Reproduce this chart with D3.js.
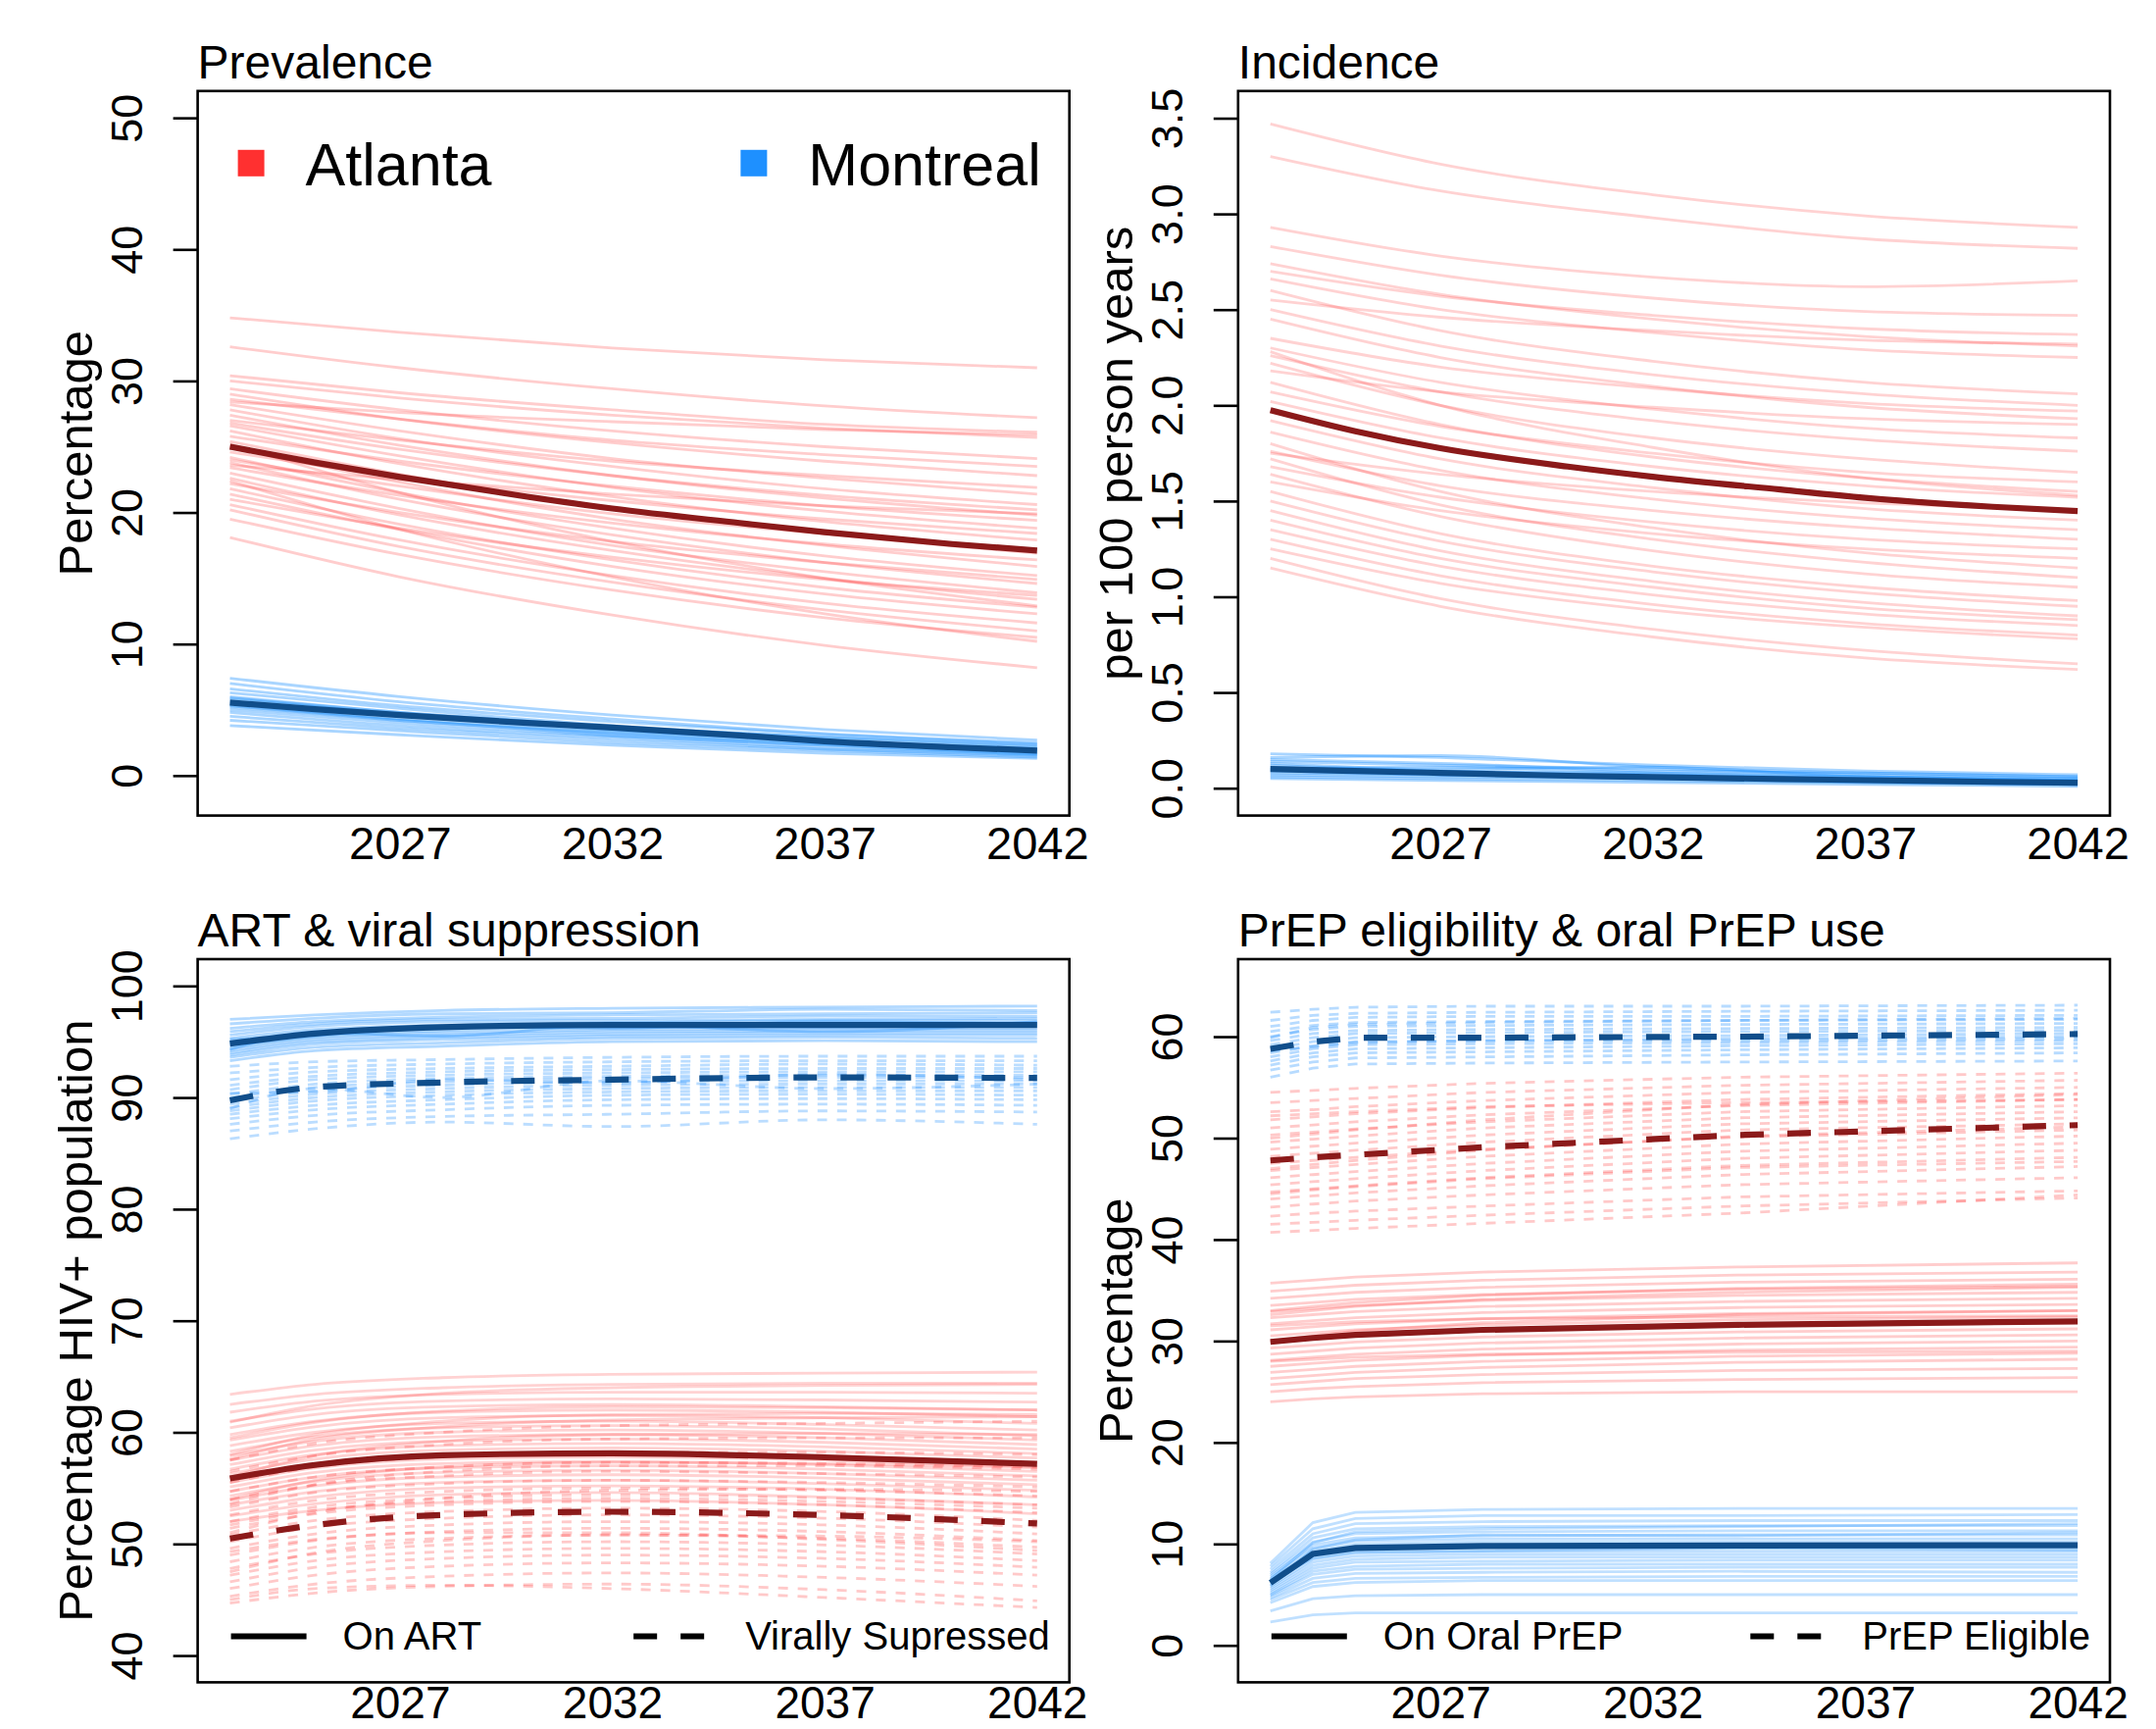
<!DOCTYPE html>
<html>
<head>
<meta charset="utf-8">
<script src="https://cdn.jsdelivr.net/npm/d3@7"></script>
<style>
  body { margin: 0; background: #fff; }
  text { font-family: 'Liberation Sans', Arial, Helvetica, sans-serif; fill: #000; }
</style>
</head>
<body>
<svg id="chart"></svg>
<script>
// COLOURS
const ATL = '#FF3030', MTL = '#1E90FF', ATL_DARK = '#8B1A1A', MTL_DARK = '#104E8B'

// YEARS AT WHICH EACH RUN WAS READ
const RUN_YEARS = [2023, 2027, 2032, 2037, 2042]
const MEAN_YEARS = [2023, 2025, 2027, 2030, 2032, 2035, 2037, 2040, 2042]
const ART_YEARS = [2023, 2025, 2028, 2032, 2037, 2042]
const PREP_YEARS = [2023, 2024, 2025, 2028, 2034, 2042]
const X_TICKS = [2027, 2032, 2037, 2042]

// PREVALENCE (%)
const prevAtlRuns = [
  [34.8, 33.7, 32.5, 31.6, 31.0], [32.6, 31.0, 29.4, 28.1, 27.2], [30.4, 29.1, 27.8, 26.7, 26.1],
  [30.0, 28.7, 27.4, 26.4, 25.7], [29.4, 27.8, 26.2, 25.0, 24.1], [29.0, 27.1, 25.3, 23.9, 22.8],
  [28.6, 27.1, 25.5, 24.4, 23.5], [28.2, 26.2, 24.1, 22.6, 21.4], [27.8, 25.6, 23.5, 21.8, 20.6],
  [27.4, 25.1, 22.8, 21.1, 19.8], [27.0, 25.5, 23.9, 22.8, 21.9], [26.6, 24.3, 21.9, 20.1, 18.8],
  [26.2, 23.7, 21.2, 19.3, 17.9], [25.8, 23.9, 22.0, 20.5, 19.4], [25.4, 22.9, 20.3, 18.4, 16.9],
  [25.0, 22.3, 19.5, 17.5, 15.9], [24.6, 22.7, 20.9, 19.5, 18.4], [24.2, 21.5, 18.8, 16.7, 15.2],
  [23.8, 21.0, 18.3, 16.2, 14.6], [23.4, 21.3, 19.2, 17.6, 16.4], [23.0, 20.3, 17.5, 15.5, 13.9],
  [22.6, 19.8, 17.1, 15.0, 13.4], [22.2, 20.0, 17.8, 16.2, 14.9], [21.8, 19.1, 16.4, 14.3, 12.8],
  [21.4, 18.7, 15.9, 13.8, 12.3], [21.0, 18.8, 16.6, 14.9, 13.7], [20.6, 17.9, 15.2, 13.1, 11.6],
  [20.2, 17.4, 14.7, 12.6, 11.0], [19.5, 16.8, 14.1, 12.0, 10.5], [18.1, 15.1, 12.2, 9.9, 8.2],
  [26.8, 24.8, 22.8, 21.3, 20.2], [24.0, 22.0, 19.9, 18.4, 17.2], [22.4, 18.7, 15.1, 12.3, 10.2],
  [28.4, 27.6, 26.9, 26.3, 25.9], [25.2, 21.5, 17.8, 15.0, 12.9], [23.6, 22.5, 21.4, 20.5, 19.9]
]
const prevMtlRuns = [
  [7.4, 6.0, 4.6, 3.5, 2.7], [7.0, 5.6, 4.3, 3.2, 2.5], [6.6, 5.3, 4.1, 3.1, 2.4], [6.3, 5.1, 3.8, 2.9, 2.2],
  [6.0, 4.8, 3.7, 2.7, 2.1], [5.8, 4.7, 3.5, 2.6, 2.0], [5.6, 4.5, 3.4, 2.6, 2.0], [5.4, 4.3, 3.3, 2.5, 1.9],
  [5.2, 4.2, 3.2, 2.4, 1.8], [5.0, 4.0, 3.0, 2.3, 1.7], [4.8, 3.8, 2.9, 2.1, 1.6], [4.5, 3.6, 2.7, 2.0, 1.5],
  [4.2, 3.4, 2.5, 1.9, 1.4], [3.8, 3.1, 2.3, 1.7, 1.3], [5.9, 4.8, 3.7, 2.9, 2.3], [5.3, 4.2, 3.1, 2.3, 1.6]
]
const prevAtlMean = [25.0, 23.8, 22.7, 21.2, 20.3, 19.2, 18.5, 17.6, 17.1]
const prevMtlMean = [5.55, 5.05, 4.6, 4.0, 3.65, 3.05, 2.6, 2.15, 1.9]

// INCIDENCE (per 100 person years)
const incAtlRuns = [
  [3.47, 3.26, 3.10, 2.99, 2.93], [3.30, 3.12, 2.98, 2.87, 2.82], [2.93, 2.78, 2.67, 2.62, 2.65],
  [2.83, 2.68, 2.56, 2.49, 2.47], [2.74, 2.58, 2.45, 2.36, 2.31], [2.70, 2.57, 2.47, 2.40, 2.37],
  [2.66, 2.50, 2.38, 2.29, 2.25], [2.60, 2.39, 2.23, 2.12, 2.06], [2.55, 2.46, 2.39, 2.34, 2.32],
  [2.50, 2.31, 2.16, 2.06, 2.00], [2.45, 2.25, 2.10, 1.99, 1.93], [2.35, 2.20, 2.09, 2.01, 1.97],
  [2.30, 2.12, 1.98, 1.88, 1.83], [2.26, 2.07, 1.92, 1.82, 1.76], [2.22, 2.00, 1.83, 1.72, 1.65],
  [2.18, 2.07, 1.99, 1.93, 1.90], [2.12, 1.90, 1.73, 1.62, 1.55], [2.07, 1.89, 1.75, 1.65, 1.60],
  [2.02, 1.83, 1.68, 1.58, 1.52], [1.92, 1.72, 1.57, 1.46, 1.40], [1.86, 1.66, 1.51, 1.41, 1.35],
  [1.80, 1.55, 1.36, 1.23, 1.15], [1.76, 1.58, 1.45, 1.36, 1.30], [1.72, 1.48, 1.30, 1.18, 1.10],
  [1.68, 1.52, 1.39, 1.30, 1.25], [1.64, 1.42, 1.24, 1.12, 1.05], [1.60, 1.45, 1.33, 1.25, 1.20],
  [1.55, 1.33, 1.16, 1.05, 0.98], [1.50, 1.29, 1.13, 1.02, 0.95], [1.45, 1.24, 1.08, 0.97, 0.90],
  [1.40, 1.20, 1.05, 0.94, 0.88], [1.35, 1.16, 1.01, 0.91, 0.85], [1.30, 1.11, 0.96, 0.86, 0.80],
  [1.25, 1.07, 0.93, 0.84, 0.78], [1.20, 0.99, 0.83, 0.72, 0.65], [1.15, 0.95, 0.79, 0.68, 0.62],
  [1.75, 1.64, 1.55, 1.49, 1.45], [2.28, 2.00, 1.78, 1.62, 1.53]
]
const incMtlRuns = [
  [0.18, 0.16, 0.12, 0.09, 0.07], [0.16, 0.17, 0.11, 0.08, 0.06], [0.14, 0.12, 0.10, 0.07, 0.05],
  [0.13, 0.10, 0.11, 0.06, 0.05], [0.12, 0.09, 0.08, 0.06, 0.04], [0.11, 0.09, 0.07, 0.05, 0.04],
  [0.10, 0.08, 0.06, 0.05, 0.03], [0.09, 0.07, 0.06, 0.04, 0.03], [0.08, 0.07, 0.05, 0.04, 0.02],
  [0.07, 0.06, 0.05, 0.03, 0.02], [0.06, 0.05, 0.04, 0.03, 0.02], [0.05, 0.04, 0.03, 0.02, 0.01],
  [0.10, 0.11, 0.08, 0.06, 0.04], [0.15, 0.13, 0.09, 0.08, 0.06]
]
const incAtlMean = [1.975, 1.865, 1.776, 1.68, 1.627, 1.56, 1.517, 1.47, 1.448]
const incMtlMean = [0.10, 0.09, 0.08, 0.065, 0.058, 0.048, 0.042, 0.033, 0.028]

// ART & VIRAL SUPPRESSION (% of HIV+ population)
const artMtlRuns = [
  [97.0, 97.4, 97.8, 98.0, 98.1, 98.2], [96.6, 97.1, 97.5, 97.6, 97.9, 97.8], [96.2, 96.8, 97.2, 97.4, 97.5, 97.6],
  [95.9, 96.6, 97.0, 97.1, 97.3, 97.3], [95.6, 96.4, 96.8, 96.9, 97.0, 97.1], [95.3, 96.1, 96.5, 96.7, 96.9, 96.9],
  [95.0, 95.9, 96.3, 96.6, 96.6, 96.7], [94.8, 95.7, 96.2, 96.4, 96.5, 96.5], [94.6, 95.5, 96.0, 96.3, 96.3, 96.4],
  [94.4, 95.4, 95.8, 96.1, 96.2, 96.2], [94.2, 95.2, 95.6, 95.9, 96.0, 96.0], [94.0, 95.0, 95.4, 95.7, 95.8, 95.8],
  [93.8, 94.8, 95.2, 95.5, 95.6, 95.6], [93.6, 94.5, 94.9, 95.3, 95.4, 95.3], [93.3, 94.2, 94.6, 95.0, 95.1, 95.0],
  [95.2, 95.6, 96.4, 96.2, 96.8, 96.6], [94.3, 95.8, 95.5, 96.5, 95.9, 96.8]
]
const vsMtlRuns = [
  [92.8, 93.2, 93.4, 93.6, 93.7, 93.7], [92.2, 92.7, 93.0, 93.2, 93.3, 93.3], [91.6, 92.3, 92.6, 92.8, 93.0, 92.9],
  [91.1, 91.9, 92.3, 92.5, 92.6, 92.6], [90.7, 91.6, 92.0, 92.2, 92.3, 92.3], [90.3, 91.2, 91.7, 91.9, 92.0, 92.0],
  [90.0, 90.9, 91.4, 91.7, 91.8, 91.8], [89.7, 90.6, 91.1, 91.4, 91.5, 91.5], [89.4, 90.3, 90.8, 91.1, 91.2, 91.2],
  [89.1, 90.0, 90.5, 90.8, 90.9, 90.9], [88.8, 89.7, 90.2, 90.5, 90.6, 90.6], [88.5, 89.3, 89.8, 90.2, 90.3, 90.2],
  [88.1, 88.9, 89.4, 89.8, 89.9, 89.8], [87.6, 88.4, 88.9, 89.3, 89.4, 89.3], [87.0, 87.8, 88.3, 88.5, 88.8, 88.7],
  [86.3, 87.2, 87.8, 87.4, 88.0, 87.6], [90.4, 90.5, 91.6, 91.3, 92.1, 91.6], [89.0, 90.8, 90.0, 91.5, 90.8, 91.2]
]
const artAtlRuns = [
  [63.4, 64.3, 64.9, 65.2, 65.3, 65.4], [62.5, 63.4, 64.0, 64.3, 64.4, 64.4], [61.8, 62.8, 63.4, 63.6, 63.6, 63.5],
  [61.0, 62.1, 62.8, 63.0, 62.9, 62.7], [60.4, 61.6, 62.3, 62.5, 62.3, 62.0], [59.8, 61.0, 61.8, 62.0, 61.8, 61.4],
  [59.3, 60.5, 61.3, 61.5, 61.3, 60.8], [58.8, 60.0, 60.8, 61.0, 60.7, 60.2], [58.3, 59.6, 60.4, 60.6, 60.3, 59.7],
  [57.9, 59.2, 60.0, 60.2, 59.9, 59.3], [57.5, 58.8, 59.6, 59.8, 59.5, 58.9], [57.1, 58.4, 59.2, 59.4, 59.1, 58.5],
  [56.7, 58.0, 58.8, 59.0, 58.7, 58.1], [56.3, 57.6, 58.4, 58.6, 58.3, 57.7], [55.9, 57.2, 58.0, 58.2, 57.9, 57.3],
  [55.5, 56.8, 57.6, 57.8, 57.5, 56.9], [55.1, 56.4, 57.2, 57.4, 57.1, 56.5], [54.7, 56.0, 56.8, 57.0, 56.7, 56.1],
  [54.3, 55.6, 56.4, 56.6, 56.3, 55.7], [53.9, 55.2, 56.0, 56.2, 55.9, 55.3], [53.5, 54.7, 55.5, 55.7, 55.4, 54.8],
  [53.0, 54.2, 55.0, 55.2, 54.9, 54.2], [52.5, 53.6, 54.4, 54.6, 54.2, 53.5], [52.0, 53.0, 53.7, 53.9, 53.5, 52.7],
  [60.9, 62.4, 63.5, 64.0, 64.2, 64.3], [58.0, 59.8, 61.0, 61.6, 61.7, 61.6], [56.0, 57.9, 59.2, 59.8, 59.9, 59.8],
  [54.0, 55.7, 56.9, 57.3, 57.2, 56.8], [57.6, 59.4, 60.5, 61.1, 61.3, 61.4], [59.5, 60.9, 61.9, 62.3, 62.2, 62.0]
]
const vsAtlRuns = [
  [57.5, 59.0, 60.0, 60.6, 60.8, 61.0], [56.5, 57.9, 58.9, 59.4, 59.5, 59.5], [55.5, 56.9, 57.8, 58.2, 58.2, 58.0],
  [54.7, 56.0, 56.9, 57.3, 57.2, 56.9], [54.0, 55.3, 56.1, 56.5, 56.3, 56.0], [53.3, 54.6, 55.4, 55.7, 55.5, 55.1],
  [52.6, 53.9, 54.7, 55.0, 54.8, 54.3], [52.0, 53.3, 54.1, 54.4, 54.1, 53.5], [51.4, 52.7, 53.5, 53.8, 53.5, 52.8],
  [50.8, 52.1, 52.9, 53.2, 52.9, 52.1], [50.2, 51.5, 52.3, 52.6, 52.3, 51.5], [49.6, 50.9, 51.7, 52.0, 51.7, 50.9],
  [49.0, 50.3, 51.1, 51.4, 51.1, 50.3], [48.4, 49.7, 50.5, 50.8, 50.5, 49.7], [47.8, 49.1, 49.9, 50.2, 49.9, 49.1],
  [47.2, 48.5, 49.3, 49.6, 49.3, 48.5], [46.6, 47.9, 48.7, 49.0, 48.7, 47.9], [46.0, 47.2, 48.0, 48.3, 48.0, 47.2],
  [45.3, 46.4, 47.1, 47.4, 47.0, 46.2], [44.7, 45.6, 46.2, 46.4, 45.9, 44.9], [45.0, 46.0, 46.3, 46.0, 45.2, 44.3],
  [51.0, 52.8, 54.1, 54.8, 54.9, 54.7], [49.3, 50.4, 51.0, 51.0, 50.4, 49.4], [53.6, 55.3, 56.5, 57.0, 57.0, 56.7],
  [47.5, 49.2, 50.3, 50.8, 50.7, 50.2], [51.7, 53.0, 53.8, 54.1, 53.8, 53.2]
]
const artMtlMean = [94.83, 95.73, 96.3, 96.5, 96.5, 96.5]
const vsMtlMean = [89.75, 90.93, 91.35, 91.6, 91.8, 91.75]
const artAtlMean = [55.87, 57.08, 57.95, 58.12, 57.76, 57.17]
const vsAtlMean = [50.48, 51.69, 52.6, 52.88, 52.58, 51.83]

// PREP ELIGIBILITY & ORAL PREP USE (%)
const useMtlRuns = [
  [8.1, 12.1, 13.1, 13.4, 13.5, 13.5], [7.8, 11.5, 12.5, 12.8, 12.8, 12.9], [7.5, 11.0, 12.0, 12.2, 12.3, 12.3],
  [7.2, 10.6, 11.5, 11.7, 11.8, 11.8], [7.0, 10.2, 11.0, 11.2, 11.3, 11.3], [6.8, 9.9, 10.6, 10.8, 10.9, 10.9],
  [6.6, 9.6, 10.3, 10.5, 10.5, 10.5], [6.4, 9.3, 10.0, 10.2, 10.2, 10.2], [6.2, 9.1, 9.7, 9.9, 9.9, 9.9],
  [6.0, 8.8, 9.4, 9.6, 9.6, 9.6], [5.8, 8.5, 9.1, 9.3, 9.3, 9.3], [5.6, 8.2, 8.8, 9.0, 9.0, 9.0],
  [5.4, 7.9, 8.5, 8.7, 8.7, 8.7], [5.2, 7.6, 8.2, 8.3, 8.4, 8.4], [5.0, 7.3, 7.8, 8.0, 8.0, 8.0],
  [4.9, 7.0, 7.5, 7.6, 7.7, 7.7], [4.7, 6.6, 7.1, 7.2, 7.3, 7.2], [4.5, 6.2, 6.6, 6.7, 6.8, 6.8],
  [4.2, 5.8, 6.2, 6.4, 6.4, 6.4], [3.4, 4.6, 4.9, 5.0, 5.0, 5.0], [2.3, 3.0, 3.2, 3.2, 3.2, 3.2],
  [6.5, 10.1, 11.2, 11.5, 11.7, 12.0], [5.9, 9.5, 10.4, 10.9, 10.8, 11.1], [6.3, 8.6, 9.2, 9.3, 9.6, 9.4]
]
const eligMtlRuns = [
  [62.4, 62.7, 62.9, 63.0, 63.0, 63.1], [61.6, 62.1, 62.3, 62.4, 62.5, 62.6], [61.0, 61.6, 61.9, 62.0, 62.0, 62.1],
  [60.5, 61.1, 61.4, 61.5, 61.6, 61.7], [60.0, 60.7, 61.0, 61.1, 61.2, 61.3], [59.6, 60.3, 60.6, 60.7, 60.8, 60.9],
  [59.2, 59.9, 60.3, 60.4, 60.5, 60.6], [58.8, 59.5, 59.9, 60.0, 60.1, 60.3], [58.4, 59.1, 59.5, 59.6, 59.8, 60.0],
  [58.0, 58.8, 59.2, 59.3, 59.4, 59.6], [57.6, 58.4, 58.8, 58.9, 59.1, 59.3], [57.2, 58.0, 58.4, 58.5, 58.7, 58.9],
  [56.7, 57.5, 57.9, 58.0, 58.2, 58.4], [56.0, 56.9, 57.3, 57.4, 57.5, 57.6], [59.9, 60.9, 61.2, 61.4, 61.6, 61.8],
  [58.6, 59.0, 59.4, 59.6, 59.6, 59.8]
]
const useAtlRuns = [
  [35.7, 36.0, 36.3, 36.8, 37.3, 37.7], [34.9, 35.2, 35.5, 36.0, 36.5, 36.8], [34.2, 34.5, 34.8, 35.3, 35.8, 36.1],
  [33.5, 33.8, 34.1, 34.6, 35.1, 35.4], [32.9, 33.2, 33.5, 34.0, 34.5, 34.8], [32.3, 32.6, 32.9, 33.4, 33.9, 34.2],
  [31.7, 32.0, 32.3, 32.8, 33.3, 33.6], [31.1, 31.4, 31.7, 32.2, 32.7, 33.0], [30.5, 30.8, 31.1, 31.6, 32.1, 32.4],
  [29.9, 30.2, 30.5, 31.0, 31.5, 31.8], [29.3, 29.6, 29.9, 30.4, 30.9, 31.2], [28.7, 29.0, 29.3, 29.8, 30.3, 30.6],
  [28.1, 28.4, 28.7, 29.2, 29.7, 30.0], [27.5, 27.8, 28.1, 28.6, 29.1, 29.4], [26.9, 27.2, 27.5, 28.0, 28.5, 28.8],
  [26.3, 26.6, 26.9, 27.4, 27.9, 28.2], [25.7, 26.0, 26.3, 26.7, 27.1, 27.3], [25.0, 25.3, 25.5, 25.9, 26.2, 26.4],
  [24.0, 24.3, 24.5, 24.8, 25.0, 25.0], [33.0, 33.4, 33.8, 34.5, 35.2, 35.6], [30.0, 30.5, 31.0, 31.8, 32.6, 33.0],
  [31.5, 31.7, 31.9, 32.2, 32.4, 32.5], [28.0, 28.2, 28.4, 28.7, 28.9, 29.0], [32.6, 33.0, 33.4, 34.1, 34.8, 35.3]
]
const eligAtlRuns = [
  [54.5, 54.7, 54.9, 55.4, 56.0, 56.4], [53.5, 53.7, 53.9, 54.5, 55.2, 55.7], [52.6, 52.8, 53.1, 53.7, 54.5, 55.0],
  [51.8, 52.1, 52.4, 53.0, 53.8, 54.4], [51.0, 51.3, 51.6, 52.3, 53.2, 53.8], [50.3, 50.6, 50.9, 51.6, 52.6, 53.2],
  [49.6, 49.9, 50.2, 51.0, 52.0, 52.6], [48.9, 49.2, 49.5, 50.3, 51.4, 52.0], [48.2, 48.5, 48.8, 49.6, 50.8, 51.4],
  [47.5, 47.8, 48.1, 48.9, 50.1, 50.8], [46.8, 47.1, 47.4, 48.2, 49.4, 50.2], [46.1, 46.4, 46.7, 47.5, 48.7, 49.5],
  [45.4, 45.7, 46.0, 46.8, 48.0, 48.8], [44.7, 45.0, 45.3, 46.1, 47.3, 48.1], [44.0, 44.3, 44.6, 45.3, 46.4, 47.2],
  [43.2, 43.5, 43.8, 44.4, 45.4, 46.1], [42.3, 42.6, 42.8, 43.3, 44.2, 44.8], [41.5, 41.7, 41.9, 42.4, 43.3, 44.1],
  [40.7, 40.9, 41.1, 41.6, 42.6, 44.4], [50.0, 50.4, 50.8, 51.8, 53.3, 54.3], [47.0, 47.4, 47.8, 48.8, 50.2, 51.1],
  [44.5, 44.9, 45.2, 46.0, 47.1, 47.7], [52.2, 52.4, 52.6, 53.1, 53.5, 53.8]
]
const useMtlMean = [6.16, 9.02, 9.61, 9.8, 9.85, 9.87]
const eligMtlMean = [58.8, 59.5, 59.9, 59.9, 60.0, 60.25]
const useAtlMean = [29.92, 30.3, 30.6, 31.1, 31.6, 31.94]
const eligAtlMean = [47.8, 48.1, 48.35, 49.1, 50.3, 51.28]

// PAGE SIZE & PANEL BOXES
const totalWidth = 2199, totalHeight = 1763
const cols = [[201.6, 1090.7], [1262.8, 2152]]
const rows = [[92.8, 831.6], [978, 1715.4]]

const svg = d3.select('#chart')
  .attr('width', totalWidth)
  .attr('height', totalHeight)

svg.append('rect').attr('width', totalWidth).attr('height', totalHeight).attr('fill', '#fff')

function drawPanel(p) {
  var [left, right] = cols[p.col], [top, bottom] = rows[p.row]

  var x = d3.scaleLinear().domain([2022.24, 2042.76]).range([left, right])
  var y = d3.scaleLinear().domain(p.yDomain).range([bottom, top])

  var line = d3.line()
    .x(d => x(d[0]))
    .y(d => y(d[1]))
    .curve(p.curve || d3.curveMonotoneX)

  var plot = svg.append('g')

  // FAINT SIMULATION RUNS
  p.runs.forEach(s => {
    s.data.forEach(run => {
      plot.append('path')
        .datum(s.years.map((yr, i) => [yr, run[i]]))
        .attr('d', line)
        .attr('fill', 'none')
        .attr('stroke', s.color)
        .attr('stroke-opacity', s.opacity)
        .attr('stroke-width', 2.8)
        .attr('stroke-dasharray', s.dashed ? '10,10' : null)
    })
  })

  // MEAN LINES
  p.means.forEach(s => {
    plot.append('path')
      .datum(s.years.map((yr, i) => [yr, s.data[i]]))
      .attr('d', line)
      .attr('fill', 'none')
      .attr('stroke', s.color)
      .attr('stroke-width', 6.2)
      .attr('stroke-dasharray', s.dashed ? '24,24' : null)
  })

  // BOX
  svg.append('rect')
    .attr('x', left).attr('y', top)
    .attr('width', right - left).attr('height', bottom - top)
    .attr('fill', 'none').attr('stroke', '#000').attr('stroke-width', 2.6)

  // Y AXIS (R style: rotated labels)
  var yAxis = svg.append('g')
    .attr('transform', `translate(${left}, 0)`)
    .call(d3.axisLeft(y).tickValues(p.yTicks).tickSize(25).tickFormat(p.yFormat))
  yAxis.select('.domain').remove()
  yAxis.selectAll('.tick line').attr('stroke', '#000').attr('stroke-width', 2.6)
  yAxis.selectAll('.tick text')
    .attr('x', 0).attr('y', 0).attr('dy', 0)
    .attr('transform', 'translate(-57, 0) rotate(-90)')
    .attr('text-anchor', 'middle')
    .style('font-size', '45px')
    .style('font-family', "'Liberation Sans', Arial, sans-serif")
    .attr('fill', '#000')

  // X AXIS (labels only; the lower row sits against the page edge)
  var xAxis = svg.append('g')
    .attr('transform', `translate(0, ${bottom})`)
    .call(d3.axisBottom(x).tickValues(X_TICKS).tickSize(0).tickFormat(d3.format('d')))
  xAxis.select('.domain').remove()
  xAxis.selectAll('.tick text')
    .attr('y', p.row === 0 ? 44 : 37).attr('dy', 0)
    .style('font-size', p.row === 0 ? '47px' : '46px')
    .style('font-family', "'Liberation Sans', Arial, sans-serif")
    .attr('fill', '#000')

  // TITLE
  svg.append('text')
    .attr('x', left).attr('y', top - 13)
    .style('font-size', '48px')
    .text(p.title)

  // Y LABEL
  svg.append('text')
    .attr('transform', `translate(${left - 108}, ${(top + bottom) / 2}) rotate(-90)`)
    .attr('text-anchor', 'middle')
    .style('font-size', '49px')
    .text(p.yLabel)

  return { left, right, top, bottom }
}

// PANEL 1: PREVALENCE
var b1 = drawPanel({
  col: 0, row: 0, title: 'Prevalence', yLabel: 'Percentage',
  yDomain: [-3.04, 52.04], yTicks: [0, 10, 20, 30, 40, 50], yFormat: d3.format('d'),
  runs: [
    { data: prevAtlRuns, years: RUN_YEARS, color: ATL, opacity: 0.24 },
    { data: prevMtlRuns, years: RUN_YEARS, color: MTL, opacity: 0.38 }
  ],
  means: [
    { data: prevAtlMean, years: MEAN_YEARS, color: ATL_DARK },
    { data: prevMtlMean, years: MEAN_YEARS, color: MTL_DARK }
  ]
})

// PANEL 2: INCIDENCE
drawPanel({
  col: 1, row: 0, title: 'Incidence', yLabel: 'per 100 person years',
  yDomain: [-0.143, 3.642], yTicks: [0, 0.5, 1, 1.5, 2, 2.5, 3, 3.5], yFormat: d3.format('.1f'),
  runs: [
    { data: incAtlRuns, years: RUN_YEARS, color: ATL, opacity: 0.22 },
    { data: incMtlRuns, years: RUN_YEARS, color: MTL, opacity: 0.38 }
  ],
  means: [
    { data: incAtlMean, years: MEAN_YEARS, color: ATL_DARK },
    { data: incMtlMean, years: MEAN_YEARS, color: MTL_DARK }
  ]
})

// PANEL 3: ART & VIRAL SUPPRESSION
var b3 = drawPanel({
  col: 0, row: 1, title: 'ART & viral suppression', yLabel: 'Percentage HIV+ population',
  yDomain: [37.6, 102.4], yTicks: [40, 50, 60, 70, 80, 90, 100], yFormat: d3.format('d'),
  runs: [
    { data: artAtlRuns, years: ART_YEARS, color: ATL, opacity: 0.22 },
    { data: vsAtlRuns, years: ART_YEARS, color: ATL, opacity: 0.26, dashed: true },
    { data: artMtlRuns, years: ART_YEARS, color: MTL, opacity: 0.34 },
    { data: vsMtlRuns, years: ART_YEARS, color: MTL, opacity: 0.3, dashed: true }
  ],
  means: [
    { data: artAtlMean, years: ART_YEARS, color: ATL_DARK },
    { data: vsAtlMean, years: ART_YEARS, color: ATL_DARK, dashed: true },
    { data: artMtlMean, years: ART_YEARS, color: MTL_DARK },
    { data: vsMtlMean, years: ART_YEARS, color: MTL_DARK, dashed: true }
  ]
})

// PANEL 4: PREP (yearly points joined by straight segments)
var b4 = drawPanel({
  col: 1, row: 1, title: 'PrEP eligibility & oral PrEP use', yLabel: 'Percentage',
  yDomain: [-3.64, 67.64], yTicks: [0, 10, 20, 30, 40, 50, 60], yFormat: d3.format('d'),
  curve: d3.curveLinear,
  runs: [
    { data: useAtlRuns, years: PREP_YEARS, color: ATL, opacity: 0.24 },
    { data: eligAtlRuns, years: PREP_YEARS, color: ATL, opacity: 0.26, dashed: true },
    { data: useMtlRuns, years: PREP_YEARS, color: MTL, opacity: 0.28 },
    { data: eligMtlRuns, years: PREP_YEARS, color: MTL, opacity: 0.32, dashed: true }
  ],
  means: [
    { data: useAtlMean, years: PREP_YEARS, color: ATL_DARK },
    { data: eligAtlMean, years: PREP_YEARS, color: ATL_DARK, dashed: true },
    { data: useMtlMean, years: PREP_YEARS, color: MTL_DARK },
    { data: eligMtlMean, years: PREP_YEARS, color: MTL_DARK, dashed: true }
  ]
})

// CITY LEGEND (panel 1)
const cities = ['Atlanta', 'Montreal']
const cityColors = [ATL, MTL]
cities.forEach((c, i) => {
  var t = svg.append('text')
    .attr('y', b1.top + 96)
    .style('font-size', '61px')
    .text(c)
  var tx
  if (i === 0) {
    tx = b1.left + 110
    t.attr('x', tx)
  } else {
    tx = b1.right - 29 - t.node().getComputedTextLength()
    t.attr('x', tx)
  }
  svg.append('rect')
    .attr('x', tx - 69).attr('y', b1.top + 60)
    .attr('width', 27).attr('height', 27)
    .attr('fill', cityColors[i])
})

// LINE TYPE LEGENDS (panels 3 and 4)
function lineLegend(b, labels) {
  var base = b.bottom - 33, ly = b.bottom - 47
  labels.forEach((lab, i) => {
    var t = svg.append('text')
      .attr('y', base)
      .style('font-size', '40px')
      .text(lab)
    var tx = i === 0 ? b.left + 148 : b.right - 20 - t.node().getComputedTextLength()
    t.attr('x', tx)
    svg.append('line')
      .attr('x1', tx - 114).attr('x2', tx - 37)
      .attr('y1', ly).attr('y2', ly)
      .attr('stroke', '#000').attr('stroke-width', 6)
      .attr('stroke-dasharray', i === 0 ? null : '24,24')
  })
}
lineLegend(b3, ['On ART', 'Virally Supressed'])
lineLegend(b4, ['On Oral PrEP', 'PrEP Eligible'])
</script>
</body>
</html>
